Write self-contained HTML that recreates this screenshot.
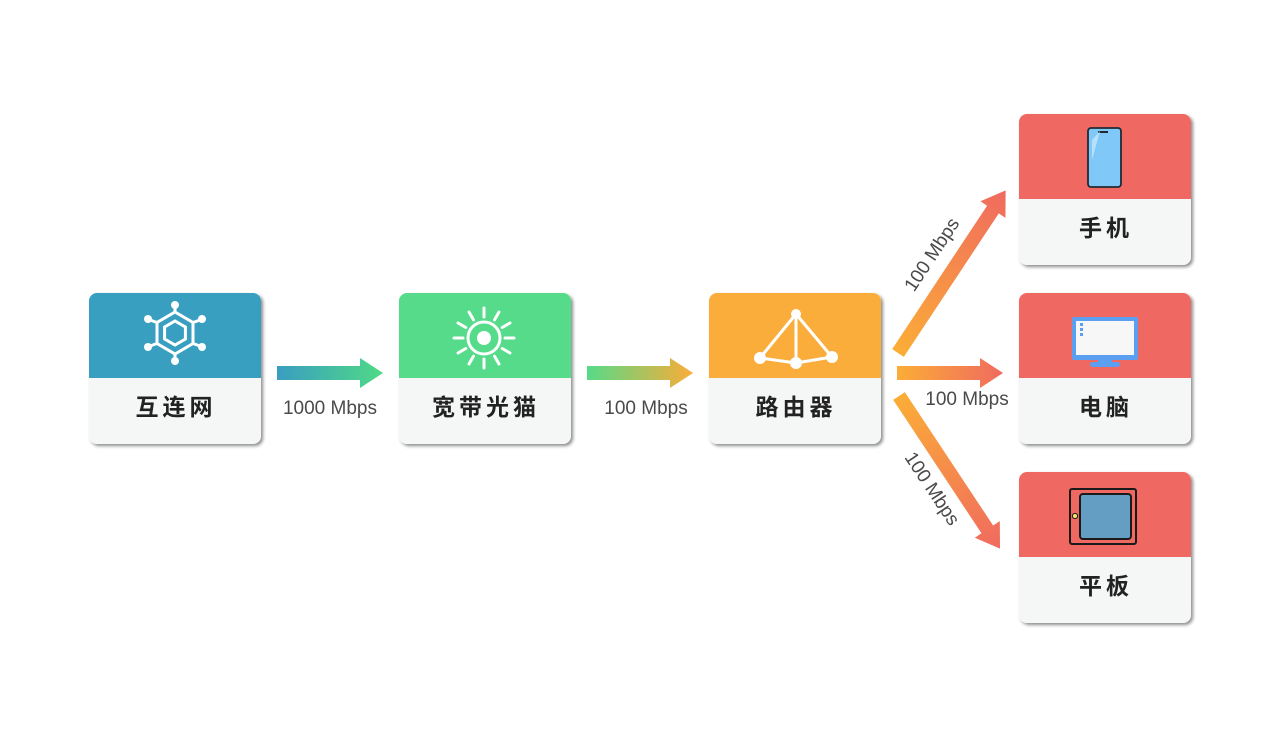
<!DOCTYPE html>
<html><head><meta charset="utf-8"><style>
html,body{margin:0;padding:0;background:#fff;}
svg{display:block;}
text{font-family:"Liberation Sans","Noto Sans CJK SC",sans-serif;}
</style></head><body>
<svg width="1280" height="744" viewBox="0 0 1280 744" xmlns="http://www.w3.org/2000/svg">
<defs>
<filter id="sh" x="-10%" y="-10%" width="130%" height="130%">
<feDropShadow dx="2" dy="2" stdDeviation="1.6" flood-color="#000" flood-opacity="0.45"/>
</filter>
<linearGradient id="g1" x1="0" x2="1" y1="0" y2="0"><stop offset="0" stop-color="#3a9dc1"/><stop offset="1" stop-color="#4fda86"/></linearGradient>
<linearGradient id="g2" x1="0" x2="1" y1="0" y2="0"><stop offset="0" stop-color="#56da88"/><stop offset="1" stop-color="#fbac37"/></linearGradient>
<linearGradient id="g3" x1="0" x2="1" y1="0" y2="0"><stop offset="0" stop-color="#fbad37"/><stop offset="1" stop-color="#f06a5f"/></linearGradient>
<clipPath id="ct"><rect x="0" y="0" width="172" height="151" rx="8"/></clipPath>
<g id="arrow">
<polygon points="0,-7 83,-7 83,-15 106,0 83,15 83,7 0,7"/>
</g>
</defs>

<g filter="url(#sh)">
<g transform="translate(89,293)"><g clip-path="url(#ct)"><rect width="172" height="151" fill="#f5f7f7"/><rect width="172" height="85" fill="#389fc0"/></g></g>
<g transform="translate(399,293)"><g clip-path="url(#ct)"><rect width="172" height="151" fill="#f5f7f7"/><rect width="172" height="85" fill="#54db89"/></g></g>
<g transform="translate(709,293)"><g clip-path="url(#ct)"><rect width="172" height="151" fill="#f5f7f7"/><rect width="172" height="85" fill="#faad3a"/></g></g>
<g transform="translate(1019,114)"><g clip-path="url(#ct)"><rect width="172" height="152" fill="#f5f7f7"/><rect width="172" height="85" fill="#f06862"/></g></g>
<g transform="translate(1019,293)"><g clip-path="url(#ct)"><rect width="172" height="151" fill="#f5f7f7"/><rect width="172" height="85" fill="#f06862"/></g></g>
<g transform="translate(1019,472)"><g clip-path="url(#ct)"><rect width="172" height="151" fill="#f5f7f7"/><rect width="172" height="85" fill="#f06862"/></g></g>
</g>

<g font-size="23" font-weight="bold" fill="#222" text-anchor="middle" letter-spacing="4">
<text x="176" y="415">互连网</text>
<text x="486" y="415">宽带光猫</text>
<text x="796" y="415">路由器</text>
<text x="1106" y="236">手机</text>
<text x="1106" y="415">电脑</text>
<text x="1106" y="594">平板</text>
</g>

<g transform="translate(175,333)" stroke="#fff" fill="none" stroke-width="3">
<polygon points="0,-21 18,-10.5 18,10.5 0,21 -18,10.5 -18,-10.5"/>
<polygon points="0,-12 10.4,-6 10.4,6 0,12 -10.4,6 -10.4,-6"/>
<line x1="0" y1="-21" x2="0" y2="-27"/><line x1="0" y1="21" x2="0" y2="27"/>
<line x1="18" y1="-10.5" x2="25" y2="-13"/><line x1="-18" y1="-10.5" x2="-25" y2="-13"/>
<line x1="18" y1="10.5" x2="25" y2="13"/><line x1="-18" y1="10.5" x2="-25" y2="13"/>
<g fill="#fff" stroke="none"><circle cx="0" cy="-28" r="4"/><circle cx="0" cy="28" r="4"/><circle cx="27" cy="-14" r="4"/><circle cx="-27" cy="-14" r="4"/><circle cx="27" cy="14" r="4"/><circle cx="-27" cy="14" r="4"/></g>
</g>

<g transform="translate(484,338)" stroke="#fff" fill="none" stroke-width="3" stroke-linecap="round">
<circle r="16"/><circle r="7" fill="#fff" stroke="none"/>
<g id="rays">
<line x1="0" y1="-21" x2="0" y2="-30"/><line x1="0" y1="21" x2="0" y2="30"/>
<line x1="21" y1="0" x2="30" y2="0"/><line x1="-21" y1="0" x2="-30" y2="0"/>
</g>
<use href="#rays" transform="rotate(30)"/><use href="#rays" transform="rotate(60)"/>
</g>

<g stroke="#fff" stroke-width="3" fill="#fff">
<line x1="796" y1="314" x2="760" y2="358"/><line x1="796" y1="314" x2="832" y2="357"/><line x1="796" y1="314" x2="796" y2="363"/>
<line x1="760" y1="358" x2="796" y2="363"/><line x1="796" y1="363" x2="832" y2="357"/>
<circle cx="796" cy="314" r="5" stroke="none"/><circle cx="760" cy="358" r="6" stroke="none"/><circle cx="796" cy="363" r="6" stroke="none"/><circle cx="832" cy="357" r="6" stroke="none"/>
</g>

<rect x="1088" y="128" width="33" height="59" rx="3" fill="#7fc8f8" stroke="#1f2a33" stroke-width="1.8"/>
<rect x="1098" y="131" width="10" height="2" fill="#1f2a33"/>
<polygon points="1092,140 1100,131 1092,160" fill="#b6e1fb"/>

<rect x="1072" y="317" width="66" height="43" rx="2" fill="#5b9ff0"/>
<rect x="1076" y="321" width="58" height="34" fill="#f7f7f7"/>
<rect x="1080" y="323" width="3" height="3" fill="#5b9ff0"/><rect x="1080" y="328" width="3" height="3" fill="#5b9ff0"/><rect x="1080" y="333" width="3" height="3" fill="#5b9ff0"/>
<rect x="1098" y="360" width="14" height="4" fill="#5b9ff0"/>
<rect x="1090" y="362" width="30" height="5" rx="2.5" fill="#5b9ff0"/>

<rect x="1070" y="489" width="66" height="55" rx="2" fill="#f06862" stroke="#1a1a1a" stroke-width="2"/>
<rect x="1080" y="494" width="51" height="45" rx="3" fill="#649ec3" stroke="#1a1a1a" stroke-width="2"/>
<circle cx="1075" cy="516" r="2.6" fill="#f7e06a" stroke="#1a1a1a" stroke-width="1"/>

<use href="#arrow" transform="translate(277,373)" fill="url(#g1)"/>
<use href="#arrow" transform="translate(587,373)" fill="url(#g2)"/>
<use href="#arrow" transform="translate(897,373)" fill="url(#g3)"/>
<polygon transform="translate(898,353) rotate(-56.5)" points="0,-7 172,-7 172,-15 195,0 172,15 172,7 0,7" fill="url(#g3)"/>
<polygon transform="translate(899,396) rotate(56.5)" points="0,-7 160,-7 160,-15 183,0 160,15 160,7 0,7" fill="url(#g3)"/>

<g font-size="19" fill="#4a4a4a" text-anchor="middle">
<text x="330" y="414">1000 Mbps</text>
<text x="646" y="414">100 Mbps</text>
<text x="967" y="405">100 Mbps</text>
<text transform="translate(937,258) rotate(-56.5)">100 Mbps</text>
<text transform="translate(927,492) rotate(56.5)">100 Mbps</text>
</g>
</svg>
</body></html>
